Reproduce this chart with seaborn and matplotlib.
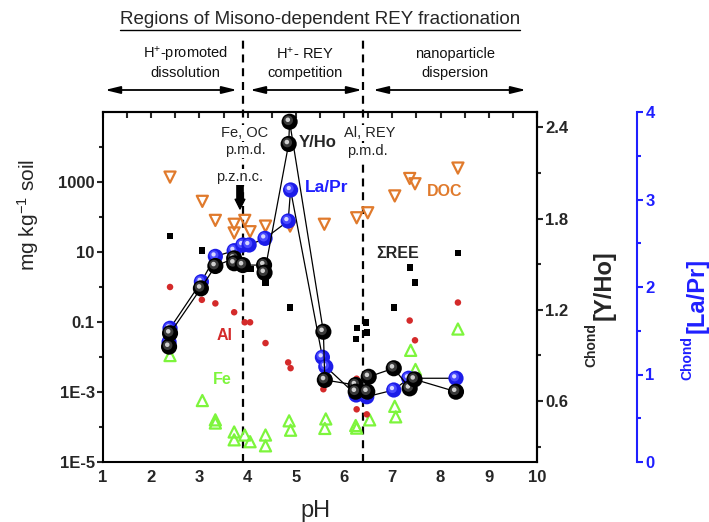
import numpy as np
import pandas as pd
import matplotlib
matplotlib.use("Agg")
import matplotlib.pyplot as plt
import seaborn as sns
from matplotlib.ticker import FixedLocator, MultipleLocator, NullFormatter
from matplotlib.transforms import ScaledTranslation
from matplotlib.lines import Line2D

# ---------------- data ----------------
doc_ph = [2.39, 3.06, 3.33, 3.72, 3.72, 3.94, 4.05, 4.37, 4.88, 5.59, 6.26, 6.49, 7.05, 7.36, 7.47, 8.36]
doc_val = [1380, 280, 80, 62, 35, 80, 38, 55, 55, 62, 95, 132, 400, 1260, 890, 2500]

ree_ph = [2.39, 3.05, 4.06, 4.37, 4.88, 6.24, 6.26, 6.45, 6.47, 7.04, 7.36, 7.47, 8.36]
ree_val = [29, 11, 3.3, 1.35, 0.26, 0.033, 0.067, 0.097, 0.05, 0.26, 3.6, 1.35, 9.3]

al_ph = [2.39, 3.05, 3.33, 3.72, 3.94, 4.05, 4.37, 4.84, 4.89, 5.57, 6.26, 6.26, 6.47, 7.36, 7.47, 8.36]
al_val = [1.0, 0.43, 0.34, 0.19, 0.098, 0.098, 0.025, 0.007, 0.0048, 0.0012, 0.0024, 0.00032, 0.00023, 0.11, 0.03, 0.36]

fe_ph = [2.39, 3.06, 3.33, 3.33, 3.72, 3.72, 3.94, 4.05, 4.37, 4.37, 4.86, 4.89, 5.62, 5.60,
         6.24, 6.26, 6.53, 7.05, 7.07, 7.38, 7.48, 8.36]
fe_val = [0.011, 5.7e-4, 1.6e-4, 1.3e-4, 7.2e-5, 4.3e-5, 5.9e-5, 3.8e-5, 5.9e-5, 2.9e-5, 1.5e-4, 8.1e-5,
          1.7e-4, 9.1e-5, 1.1e-4, 9.3e-5, 1.6e-4, 3.9e-4, 1.95e-4, 0.0155, 0.0044, 0.063]

yho_ph = [2.37, 2.39, 3.03, 3.33, 3.72, 3.72, 3.90, 4.34, 4.35, 4.85, 4.87, 5.57, 5.60,
          6.24, 6.24, 6.48, 6.51, 7.03, 7.36, 7.46, 8.32]
yho_val = [0.958, 1.046, 1.341, 1.488, 1.538, 1.506, 1.494, 1.494, 1.444, 2.29, 2.436, 1.056, 0.739,
           0.706, 0.662, 0.662, 0.760, 0.816, 0.684, 0.743, 0.662]

lapr_ph = [2.37, 2.39, 3.04, 3.33, 3.72, 3.90, 4.03, 4.36, 4.84, 4.89, 5.55, 5.62, 6.25, 6.47, 7.03, 7.34, 8.32]
lapr_val = [1.37, 1.528, 2.06, 2.35, 2.415, 2.48, 2.48, 2.556, 2.754, 3.109, 1.197, 1.089, 0.766, 0.746,
            0.823, 0.957, 0.957]

x_ticks = [1, 2, 3, 4, 5, 6, 7, 8, 9, 10]
y_ticks = [1e-5, 1e-3, 1e-1, 10, 1000]
y_tick_labels = ["1E-5", "1E-3", "0.1", "10", "1000"]
y_minor = [1e-4, 1e-2, 1, 100, 1e4]
yho_ticks = [0.6, 1.2, 1.8, 2.4]
lapr_ticks = [0, 1, 2, 3, 4]
region_bounds = [3.9, 6.4]

# ---------------- style ----------------
sns.set_style("white")
plt.rcParams["font.family"] = ["Liberation Sans", "DejaVu Sans"]
plt.rcParams["mathtext.fontset"] = "custom"
plt.rcParams["mathtext.rm"] = "Liberation Sans"
plt.rcParams["mathtext.bf"] = "Liberation Sans:bold"
plt.rcParams["mathtext.it"] = "Liberation Sans:italic"
plt.rcParams["axes.linewidth"] = 1.5

ORANGE = "#e07a2c"
RED = "#d42a2a"
GREEN = "#7df53c"
BLUE = "#1f1fff"

W, H = 709, 522
fig = plt.figure(figsize=(W / 100, H / 100), dpi=100)
L, R, T, B = 103, 537, 112, 462
ax = fig.add_axes([L / W, 1 - B / H, (R - L) / W, (B - T) / H])
ax3 = ax.twinx()   # La/Pr (beneath)
ax2 = ax.twinx()   # Y/Ho


def fx(px):
    return px / W


def fy(py):
    return 1 - py / H


# ---------------- main axis ----------------
ax.set_yscale("log")
ax.set_xlim(1, 10)
ax.set_ylim(1e-5, 1e5)

sns.scatterplot(x=doc_ph, y=doc_val, ax=ax, marker="v", s=64, facecolors="none",
                edgecolor=ORANGE, linewidth=1.6, zorder=3)
sns.scatterplot(x=fe_ph, y=fe_val, ax=ax, marker="^", s=64, facecolors="none",
                edgecolor=GREEN, linewidth=1.6, zorder=3)
sns.scatterplot(x=ree_ph, y=ree_val, ax=ax, marker="s", s=20, color="black",
                edgecolor="none", linewidth=0, zorder=3)
sns.scatterplot(x=al_ph, y=al_val, ax=ax, marker="o", s=22, color=RED,
                edgecolor="none", linewidth=0, zorder=3)

ax.set_xticks(x_ticks, labels=[str(t) for t in x_ticks], fontsize=12, fontweight="bold")
ax.xaxis.set_minor_locator(MultipleLocator(0.5))
ax.yaxis.set_major_locator(FixedLocator(y_ticks))
ax.set_yticks(y_ticks, labels=y_tick_labels, fontsize=12, fontweight="bold")
ax.yaxis.set_minor_locator(FixedLocator(y_minor))
ax.yaxis.set_minor_formatter(NullFormatter())
ax.tick_params(axis="both", which="major", direction="out", length=4, width=1.5, pad=2)
ax.tick_params(axis="both", which="minor", direction="out", length=3, width=1.5)
ax.tick_params(top=False, right=False, which="both")
for s in ax.spines.values():
    s.set_linewidth(1.5)
    s.set_color("black")

secx = ax.secondary_xaxis("top")
secx.set_xticks(x_ticks)
secx.xaxis.set_minor_locator(MultipleLocator(0.5))
secx.tick_params(which="both", direction="in", labeltop=False, length=4, width=1.5)
secx.spines["top"].set_linewidth(1.5)

ax.set_xlabel("")
ax.set_ylabel("")

# dashed region boundaries
for xb in region_bounds:
    ax.plot([xb, xb], [0, (B - 40) / (B - T)], transform=ax.get_xaxis_transform(),
            color="black", lw=1.6, ls=(0, (3.6, 2.6)), clip_on=False, zorder=2)


# ---------------- sphere helper ----------------
def spheres(axis, xs, ys, base, mid, hi, s, z0):
    z = z0
    for xv, yv in zip(xs, ys):
        sns.scatterplot(x=[xv], y=[yv], ax=axis, color=base, s=s, edgecolor="none",
                        linewidth=0, zorder=z)
        o1 = axis.transData + ScaledTranslation(-1.0 / 72, 1.0 / 72, fig.dpi_scale_trans)
        sns.scatterplot(x=[xv], y=[yv], ax=axis, color=mid, s=s * 0.35, edgecolor="none",
                        linewidth=0, zorder=z + 0.01, transform=o1)
        o2 = axis.transData + ScaledTranslation(-1.3 / 72, 1.4 / 72, fig.dpi_scale_trans)
        sns.scatterplot(x=[xv], y=[yv], ax=axis, color=hi, s=s * 0.08, edgecolor="none",
                        linewidth=0, zorder=z + 0.02, transform=o2)
        z += 0.1


# ---------------- La/Pr axis ----------------
ax3.set_ylim(0, 4)
sns.lineplot(x=lapr_ph, y=lapr_val, ax=ax3, estimator=None, sort=False, color="black",
             lw=0.9, zorder=2)
spheres(ax3, lapr_ph, lapr_val, "#1c1ce8", "#4a4aff", "#d8d8ff", 120, 3)
ax3.set_xlim(1, 10)
ax3.spines["right"].set_position(("outward", 72))
for k in ["left", "top", "bottom"]:
    ax3.spines[k].set_visible(False)
ax3.spines["right"].set_color(BLUE)
ax3.spines["right"].set_linewidth(1.5)
ax3.set_yticks(lapr_ticks, labels=[str(t) for t in lapr_ticks], fontsize=12,
               fontweight="bold", color=BLUE)
ax3.yaxis.set_minor_locator(MultipleLocator(0.5))
ax3.tick_params(axis="y", which="both", colors=BLUE, direction="out", width=1.5, pad=2)
ax3.tick_params(axis="y", which="major", length=4)
ax3.tick_params(axis="y", which="minor", length=3)
ax3.set_ylabel("")
ax3.set_xlabel("")

# ---------------- Y/Ho axis ----------------
ax2.set_ylim(0.2, 2.5)
sns.lineplot(x=yho_ph, y=yho_val, ax=ax2, estimator=None, sort=False, color="black",
             lw=0.9, zorder=2)
spheres(ax2, yho_ph, yho_val, "#000000", "#3a3a3a", "#d0d0d0", 135, 3)
ax2.set_xlim(1, 10)
for k in ["left", "top", "bottom"]:
    ax2.spines[k].set_visible(False)
ax2.spines["right"].set_linewidth(1.5)
ax2.spines["right"].set_color("black")
ax2.set_yticks(yho_ticks, labels=[f"{t:.1f}" for t in yho_ticks], fontsize=12, fontweight="bold")
ax2.yaxis.set_minor_locator(MultipleLocator(0.3))
ax2.tick_params(axis="y", which="both", direction="out", width=1.5, pad=2)
ax2.tick_params(axis="y", which="major", length=4)
ax2.tick_params(axis="y", which="minor", length=3)
ax2.set_ylabel("")
ax2.set_xlabel("")

# ---------------- axis labels ----------------
fig.text(fx(28), fy(215), r"mg kg$^{-1}$ soil", rotation=90, ha="center", va="center", fontsize=15)
fig.text(fx(316), fy(511), "pH", ha="center", va="center", fontsize=17)
fig.text(fx(604), fy(285), "[Y/Ho]", rotation=90, ha="center", va="center", fontsize=17,
         fontweight="bold")
fig.text(fx(591), fy(345), "Chond", rotation=90, ha="center", va="center", fontsize=10,
         fontweight="bold")
fig.text(fx(697), fy(295), "[La/Pr]", rotation=90, ha="center", va="center", fontsize=17,
         fontweight="bold", color=BLUE)
fig.text(fx(687), fy(358), "Chond", rotation=90, ha="center", va="center", fontsize=10,
         fontweight="bold", color=BLUE)

# ---------------- header ----------------
title = fig.text(fx(320), fy(20), "Regions of Misono-dependent REY fractionation",
                 ha="center", va="center", fontsize=13.5)
fig.canvas.draw()
bb = title.get_window_extent(fig.canvas.get_renderer())
fig.add_artist(Line2D([bb.x0 / W, bb.x1 / W], [fy(30), fy(30)], color="black", lw=1.0,
                      transform=fig.transFigure))

for cx, l1, l2 in [(185, r"H$^{+}$-promoted", "dissolution"),
                   (305, r"H$^{+}$- REY", "competition"),
                   (455, "nanoparticle", "dispersion")]:
    fig.text(fx(cx), fy(54), l1, ha="center", va="center", fontsize=10.5, color="#111111")
    fig.text(fx(cx), fy(73), l2, ha="center", va="center", fontsize=10.5, color="#111111")

for x1, x2 in [(105, 237), (250, 362), (373, 526)]:
    ax.annotate("", xy=(x2, H - 90), xytext=(x1, H - 90), xycoords="figure pixels",
                textcoords="figure pixels", annotation_clip=False,
                arrowprops=dict(arrowstyle="<|-|>,head_length=0.9,head_width=0.22",
                                color="black", lw=1.3, shrinkA=0, shrinkB=0))

# ---------------- in-plot annotations ----------------
wb = dict(facecolor="white", edgecolor="none", pad=0.6)
for (cx, cy, txt) in [(245, 133, "Fe, OC"), (245, 150, "p.m.d."), (240, 177, "p.z.n.c."),
                      (370, 133, "Al, REY"), (367, 151, "p.m.d.")]:
    fig.text(fx(cx), fy(cy), txt, ha="center", va="center", fontsize=10.5, color="#222222",
             bbox=wb, zorder=6)

ax.annotate("", xy=(240, H - 209), xytext=(240, H - 183), xycoords="figure pixels",
            textcoords="figure pixels", annotation_clip=False,
            arrowprops=dict(arrowstyle="simple,head_length=0.7,head_width=0.7,tail_width=0.45",
                            fc="black", ec="black", shrinkA=0, shrinkB=0))

fig.text(fx(318), fy(142), "Y/Ho", ha="center", va="center", fontsize=12, fontweight="bold")
fig.text(fx(327), fy(187), "La/Pr", ha="center", va="center", fontsize=12.5, fontweight="bold",
         color=BLUE)
fig.text(fx(445), fy(192), "DOC", ha="center", va="center", fontsize=11.5, fontweight="bold",
         color=ORANGE)
fig.text(fx(398), fy(253), "ΣREE", ha="center", va="center", fontsize=11.5, fontweight="bold")
fig.text(fx(225), fy(335), "Al", ha="center", va="center", fontsize=11.5, fontweight="bold",
         color=RED)
fig.text(fx(222), fy(380), "Fe", ha="center", va="center", fontsize=11.5, fontweight="bold",
         color=GREEN)

fig.savefig("out.png", dpi=100)
